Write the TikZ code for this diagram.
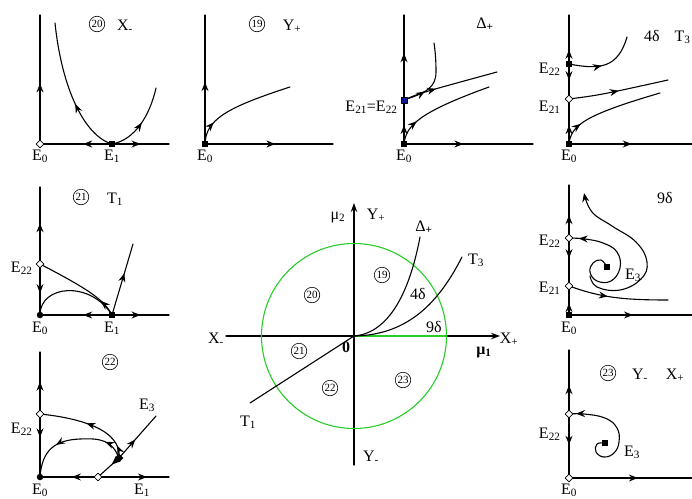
\documentclass[tikz,border=0pt]{standalone}
\usepackage{fontspec}
\setmainfont{Liberation Serif}
\usetikzlibrary{arrows.meta,decorations.markings,shapes.geometric}
\definecolor{ringgreen}{RGB}{40,205,40}
\definecolor{nodeblue}{RGB}{20,20,150}
\begin{document}
\begin{tikzpicture}[x=1pt,y=-1pt,line cap=round,line join=round,line width=1.1pt,
  >={Stealth[length=9pt,width=7pt,inset=3pt]},
  ar/.style={postaction={decorate,decoration={markings,mark=at position #1 with {\arrow{>}}}}},
  sq/.style={rectangle,fill=black,inner sep=0pt,minimum size=6.5pt},
  bsq/.style={rectangle,draw=black,fill=nodeblue,line width=.5pt,inner sep=0pt,minimum size=6.5pt},
  dm/.style={diamond,draw,fill=white,line width=.7pt,inner sep=0pt,minimum size=8pt},
  dmf/.style={diamond,fill=black,inner sep=0pt,minimum size=9pt},
  dt/.style={circle,fill=black,inner sep=0pt,minimum size=6.5pt},
  lab/.style={font=\fontsize{16}{17}\selectfont,inner sep=0pt,anchor=base},
  cn/.style={circle,draw,line width=.6pt,inner sep=0pt,minimum size=15.5pt,
    font=\fontsize{11}{11}\selectfont}]
\useasboundingbox (0,0) rectangle (692,498);
% 20 : X-
\coordinate (a0) at (40,144);
\coordinate (a1) at (112,144);
\draw[ar=.47] (a0) -- (40,15);
\draw[ar=.4] (a1) -- (a0);
\draw[ar=.5] (a1) -- (169,144);
\draw[ar=.4] (a1) .. controls (85,136) and (62,90) .. (55,23);
\draw[ar=.5] (a1) .. controls (135,140) and (150,115) .. (156,88);
\node[dm] (a0m) at (a0) {};
\node[sq] (a1m) at (a1) {};
\node[cn] (acn) at (97,24) {20};
\node[lab] (ax) at (125,30) {X\textsubscript{-}};
\node[lab] (ae0) at (40,160) {E\textsubscript{0}};
\node[lab] (ae1) at (112,160) {E\textsubscript{1}};
% 19 : Y+
\coordinate (b0) at (205,144);
\draw[ar=.48] (b0) -- (205,15);
\draw[ar=.55] (b0) -- (333,144);
\draw[ar=.22] (b0) .. controls (206,120) and (225,108) .. (290,87);
\node[sq] (b0m) at (b0) {};
\node[cn] (bcn) at (257,24) {19};
\node[lab] (by) at (292,30) {Y\textsubscript{+}};
\node[lab] (be0) at (205,160) {E\textsubscript{0}};
% Delta+
\coordinate (c0) at (404,144);
\coordinate (c21) at (404,100);
\draw[ar=.43] (c0) -- (c21);
\draw[ar=.55] (c21) -- (404,15);
\draw[ar=.46] (c0) -- (533,144);
\draw[ar=.3] (c21) .. controls (425,93) and (436,88) .. (436,72)
  .. controls (436,58) and (435,50) .. (434,43);
\draw[ar=.35] (c21) .. controls (420,93) .. (497,72);
\draw[ar=.25] (c0) .. controls (406,125) and (420,112) .. (489,87);
\node[sq] (c0m) at (c0) {};
\node[bsq] (c21m) at (c21) {};
\node[lab] (cd) at (485,28) {Δ\textsubscript{\textbf{+}}};
\node[lab,anchor=base east] (ce21) at (398,111) {E\textsubscript{21}=E\textsubscript{22}};
\node[lab] (ce0) at (404,160) {E\textsubscript{0}};
% 4delta : T3
\coordinate (d0) at (569,144);
\coordinate (d21) at (569,99);
\coordinate (d22) at (569,64);
\draw[ar=.42] (d0) -- (d21);
\draw[ar=.46] (d22) -- (d21);
\draw[ar=.29] (d22) -- (569,15);
\draw[ar=.51] (d0) -- (692,144);
\draw[ar=.45] (d22) .. controls (600,70) and (618,68) .. (627,37);
\draw[ar=.5] (d21) .. controls (600,95) .. (668,80);
\draw[ar=.22] (d0) .. controls (571,125) and (585,115) .. (660,93);
\node[sq] (d0m) at (d0) {};
\node[dm] (d21m) at (d21) {};
\node[sq] (d22m) at (d22) {};
\node[lab] (dd) at (652,41) {4δ};
\node[lab,anchor=base east] (dt3) at (691,41) {T\textsubscript{3}};
\node[lab,anchor=base east] (de22) at (561,73) {E\textsubscript{22}};
\node[lab,anchor=base east] (de21) at (561,111) {E\textsubscript{21}};
\node[lab] (de0) at (569,160) {E\textsubscript{0}};
% 21 : T1
\coordinate (e0) at (40,315);
\coordinate (e22) at (40,264);
\coordinate (e1) at (112,315);
\draw[ar=.53] (e22) -- (40,187);
\draw[ar=.57] (e22) -- (e0);
\draw[ar=.4] (e1) -- (e0);
\draw[ar=.5] (e1) -- (169,315);
\draw[ar=.2] (e1) .. controls (104,300) and (90,290) .. (e22);
\draw (e0) .. controls (40,285) and (90,280) .. (e1);
\draw[ar=.59] (e1) -- (133,244);
\node[dt] (e0m) at (e0) {};
\node[dm] (e22m) at (e22) {};
\node[sq] (e1m) at (e1) {};
\node[cn] (ecn) at (81,197) {21};
\node[lab] (et) at (115,203) {T\textsubscript{1}};
\node[lab,anchor=base east] (ee22) at (33,272) {E\textsubscript{22}};
\node[lab] (ee0) at (40,332) {E\textsubscript{0}};
\node[lab] (ee1) at (112,332) {E\textsubscript{1}};
% 22
\coordinate (f0) at (40,477);
\coordinate (f22) at (40,414);
\coordinate (f1) at (98,477);
\coordinate (f3) at (119,458);
\draw[ar=.52] (f22) -- (40,352);
\draw[ar=.37] (f22) -- (f0);
\draw[ar=.45] (f1) -- (f0);
\draw[ar=.69] (f1) -- (169,477);
\draw[ar=.35] (f3) -- (f1);
\draw[ar=.44] (f3) -- (156,416);
\draw[ar=.13,ar=.52] (f3) .. controls (122,430) and (80,418) .. (f22);
\draw[ar=.2,ar=.66] (f3) .. controls (112,440) and (100,438) .. (80,439)
  .. controls (55,440) and (42,450) .. (f0);
\node[dt] (f0m) at (f0) {};
\node[dm] (f22m) at (f22) {};
\node[dm] (f1m) at (f1) {};
\node[dmf] (f3m) at (f3) {};
\node[cn] (fcn) at (110,362) {22};
\node[lab] (fe3) at (147,409) {E\textsubscript{3}};
\node[lab,anchor=base east] (fe22) at (33,433) {E\textsubscript{22}};
\node[lab] (fe0) at (40,494) {E\textsubscript{0}};
\node[lab] (fe1) at (142,494) {E\textsubscript{1}};
% parameter plane
\coordinate (o) at (354,336);
\draw[-{Stealth[length=9pt,width=6.5pt]}] (354,465) -- (354,203);
\draw[-{Stealth[length=9pt,width=6.5pt]}] (226,336) -- (500,336);
\draw[ringgreen] (o) circle (92.5pt);
\draw[ringgreen] (o) -- (446.5,336);
\draw (o) .. controls (390,333) and (410,290) .. (420,237);
\draw (o) .. controls (410,335) and (440,300) .. (462,257);
\draw (o) -- (250,403);
\node[lab] (gm2) at (338,219) {μ\textsubscript{2}};
\node[lab] (gy) at (376,219) {Y\textsubscript{+}};
\node[lab] (gd) at (424,231) {Δ\textsubscript{\textbf{+}}};
\node[lab] (gt3) at (476,264) {T\textsubscript{3}};
\node[cn] (g19) at (382,275) {19};
\node[cn] (g20) at (312,295) {20};
\node[lab] (g4d) at (418,299) {4δ};
\node[lab] (g9d) at (434,332) {9δ};
\node[lab] (gxm) at (216,343) {X\textsubscript{-}};
\node[lab] (gxp) at (509,343) {X\textsubscript{+}};
\node[lab] (gm1) at (484,354) {\textbf{μ\textsubscript{1}}};
\node[lab] (g0) at (346,352) {\textbf{0}};
\node[cn] (g21) at (299,351) {21};
\node[cn] (g22) at (330,388) {22};
\node[cn] (g23) at (403,380) {23};
\node[lab] (gt1) at (248,426) {T\textsubscript{1}};
\node[lab] (gym) at (371,461) {Y\textsubscript{-}};
% 9delta
\coordinate (h0) at (569,315);
\coordinate (h21) at (569,286);
\coordinate (h22) at (569,238);
\coordinate (h3) at (607,267);
\draw[ar=.41] (h0) -- (h21);
\draw[ar=.42] (h22) -- (h21);
\draw[ar=.43] (h22) -- (569,185);
\draw[ar=.52] (h0) -- (692,315);
\draw[ar=.4] (h21) .. controls (600,297) and (620,300) .. (668,300);
\draw[ar=.93] plot[smooth,tension=.7] coordinates {(h3) (601,260) (593,263) (590,272)
  (597,281) (611,281) (620,268) (617,252) (603,243) (585,239) (h22)};
\draw[->] plot[smooth,tension=.7] coordinates {(590,276) (597,287) (620,290) (641,279)
  (647,262) (636,242) (612,226) (592,212) (584,193)};
\node[sq] (h0m) at (h0) {};
\node[dm] (h21m) at (h21) {};
\node[dm] (h22m) at (h22) {};
\node[sq] (h3m) at (h3) {};
\node[lab] (hd) at (665,203) {9δ};
\node[lab,anchor=base east] (he22) at (561,245) {E\textsubscript{22}};
\node[lab,anchor=base east] (he21) at (561,292) {E\textsubscript{21}};
\node[lab] (he3) at (633,279) {E\textsubscript{3}};
\node[lab] (he0) at (569,332) {E\textsubscript{0}};
% 23 : Y- X+
\coordinate (i0) at (569,478);
\coordinate (i22) at (569,414);
\coordinate (i3) at (605,443);
\draw[ar=.45] (i22) -- (569,350);
\draw[ar=.48] (i22) -- (i0);
\draw[ar=.56] (i0) -- (692,478);
\draw[ar=.94] plot[smooth,tension=.7] coordinates {(i3) (597,444) (596,452) (604,457)
  (614,453) (619,442) (617,428) (605,418) (584,414) (i22)};
\node[dm] (i0m) at (i0) {};
\node[dm] (i22m) at (i22) {};
\node[sq] (i3m) at (i3) {};
\node[cn] (icn) at (608,373) {23};
\node[lab] (iym) at (640,379) {Y\textsubscript{-}};
\node[lab] (ixp) at (675,379) {X\textsubscript{+}};
\node[lab,anchor=base east] (ie22) at (561,438) {E\textsubscript{22}};
\node[lab] (ie3) at (632,456) {E\textsubscript{3}};
\node[lab] (ie0) at (569,494) {E\textsubscript{0}};
\end{tikzpicture}
\end{document}
